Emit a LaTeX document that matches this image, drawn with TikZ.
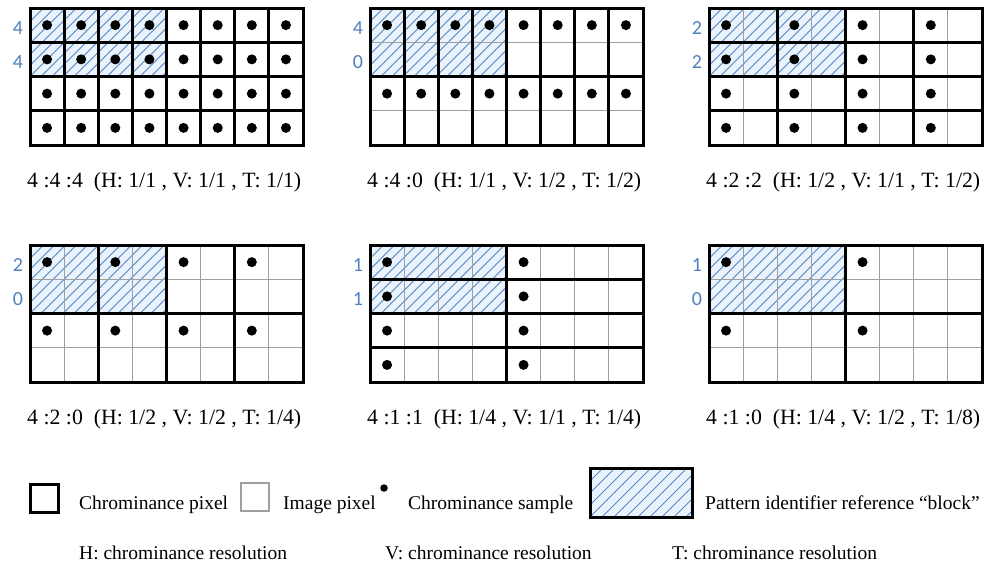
\documentclass[tikz,border=0pt]{standalone}
\usepackage{fontspec}
\setmainfont{Liberation Serif}
\newfontfamily\labfont{Carlito}
\definecolor{hatchblue}{HTML}{5588C4}
\definecolor{hatchbg}{HTML}{EAF2FB}
\definecolor{labblue}{HTML}{4F81BD}
\tikzset{
  thinline/.style={draw=gray!75, line width=1.1pt},
  thickline/.style={draw=black, line width=3pt},
  hatchline/.style={draw=hatchblue, line width=0.9pt},
  sampledot/.style={fill=black},
  caplabel/.style={anchor=base west, inner sep=0pt, font=\fontsize{21.8}{24}\selectfont},
  numlabel/.style={inner sep=0pt, text=labblue, font=\labfont\fontsize{20}{22}\selectfont},
  legtext/.style={anchor=base west, inner sep=0pt, font=\fontsize{19.5}{22}\selectfont},
}
% #1 x0, #2 y0, #3 chroma width, #4 chroma height, #5 #6 labels, #7 caption, #8 name
\newcommand\chromapanel[8]{%
  \begin{scope}[shift={(#1,#2)}]
    \def\cx{34.125}\def\cy{34.25}
    \fill[hatchbg] (0,0) rectangle (4*\cx,2*\cy);
    \begin{scope}
      \clip (0,0) rectangle (4*\cx,2*\cy);
      \foreach \k in {-7,...,13} \draw[hatchline] (\k*11,2*\cy) -- ++(2*\cy,-2*\cy);
    \end{scope}
    \foreach \i in {1,...,7} \draw[thinline] (\i*\cx,0) -- (\i*\cx,4*\cy);
    \foreach \j in {1,...,3} \draw[thinline] (0,\j*\cy) -- (8*\cx,\j*\cy);
    \foreach \i in {0,#3,...,8} \draw[thickline] (\i*\cx,0) -- (\i*\cx,4*\cy);
    \foreach \j in {0,#4,...,4} \draw[thickline] (0,\j*\cy) -- (8*\cx,\j*\cy);
    \draw[thickline] (0,0) rectangle (8*\cx,4*\cy);
    \foreach \i in {0,#3,...,7} {
      \foreach \j in {0,#4,...,3} {
        \fill[sampledot] (\i*\cx+0.5*\cx,\j*\cy+0.5*\cy) circle (5);
      }
    }
    \node[numlabel] (#8-a) at (-12,0.5*\cy+3) {#5};
    \node[numlabel] (#8-b) at (-12,1.5*\cy+3) {#6};
    \node[caplabel] (#8-cap) at (-3,179) {#7};
  \end{scope}}
\begin{document}
\begin{tikzpicture}[x=1pt,y=-1pt]
  \useasboundingbox[fill=white] (0,0) rectangle (988,563);
  \chromapanel{30}{8}{1}{1}{4}{4}{4 :4 :4\ \ (H: 1/1 , V: 1/1 , T: 1/1)}{p444}
  \chromapanel{370}{8}{1}{2}{4}{0}{4 :4 :0\ \ (H: 1/1 , V: 1/2 , T: 1/2)}{p440}
  \chromapanel{709}{8}{2}{1}{2}{2}{4 :2 :2\ \ (H: 1/2 , V: 1/1 , T: 1/2)}{p422}
  \chromapanel{30}{245}{2}{2}{2}{0}{4 :2 :0\ \ (H: 1/2 , V: 1/2 , T: 1/4)}{p420}
  \chromapanel{370}{245}{4}{1}{1}{1}{4 :1 :1\ \ (H: 1/4 , V: 1/1 , T: 1/4)}{p411}
  \chromapanel{709}{245}{4}{2}{1}{0}{4 :1 :0\ \ (H: 1/4 , V: 1/2 , T: 1/8)}{p410}
  % legend
  \node[draw=black, line width=3pt, minimum size=28pt, inner sep=0pt] (legchroma) at (44,498) {};
  \node[legtext] (legchromatext) at (79,509) {Chrominance pixel};
  \node[draw=gray!75, line width=1.1pt, minimum size=28pt, inner sep=0pt] (legimage) at (255,497) {};
  \node[legtext] (legimagetext) at (283,509) {Image pixel};
  \node[circle, fill=black, minimum size=7.5pt, inner sep=0pt] (legdot) at (384,488) {};
  \node[legtext] (legdottext) at (408,509) {Chrominance sample};
  \fill[hatchbg] (590,468) rectangle (692,517);
  \begin{scope}
    \clip (590,468) rectangle (692,517);
    \foreach \k in {-5,...,10} \draw[hatchline] (590+\k*12,517) -- ++(49,-49);
  \end{scope}
  \node[draw=black, line width=3pt, minimum width=102pt, minimum height=49pt, inner sep=0pt] (leghatch) at (641,492.5) {};
  \node[legtext] (leghatchtext) at (705,509) {Pattern identifier reference “block”};
  \node[legtext] (legH) at (79,559) {H: chrominance resolution};
  \node[legtext] (legV) at (385,559) {V: chrominance resolution};
  \node[legtext] (legT) at (672,559) {T: chrominance resolution};
\end{tikzpicture}
\end{document}
